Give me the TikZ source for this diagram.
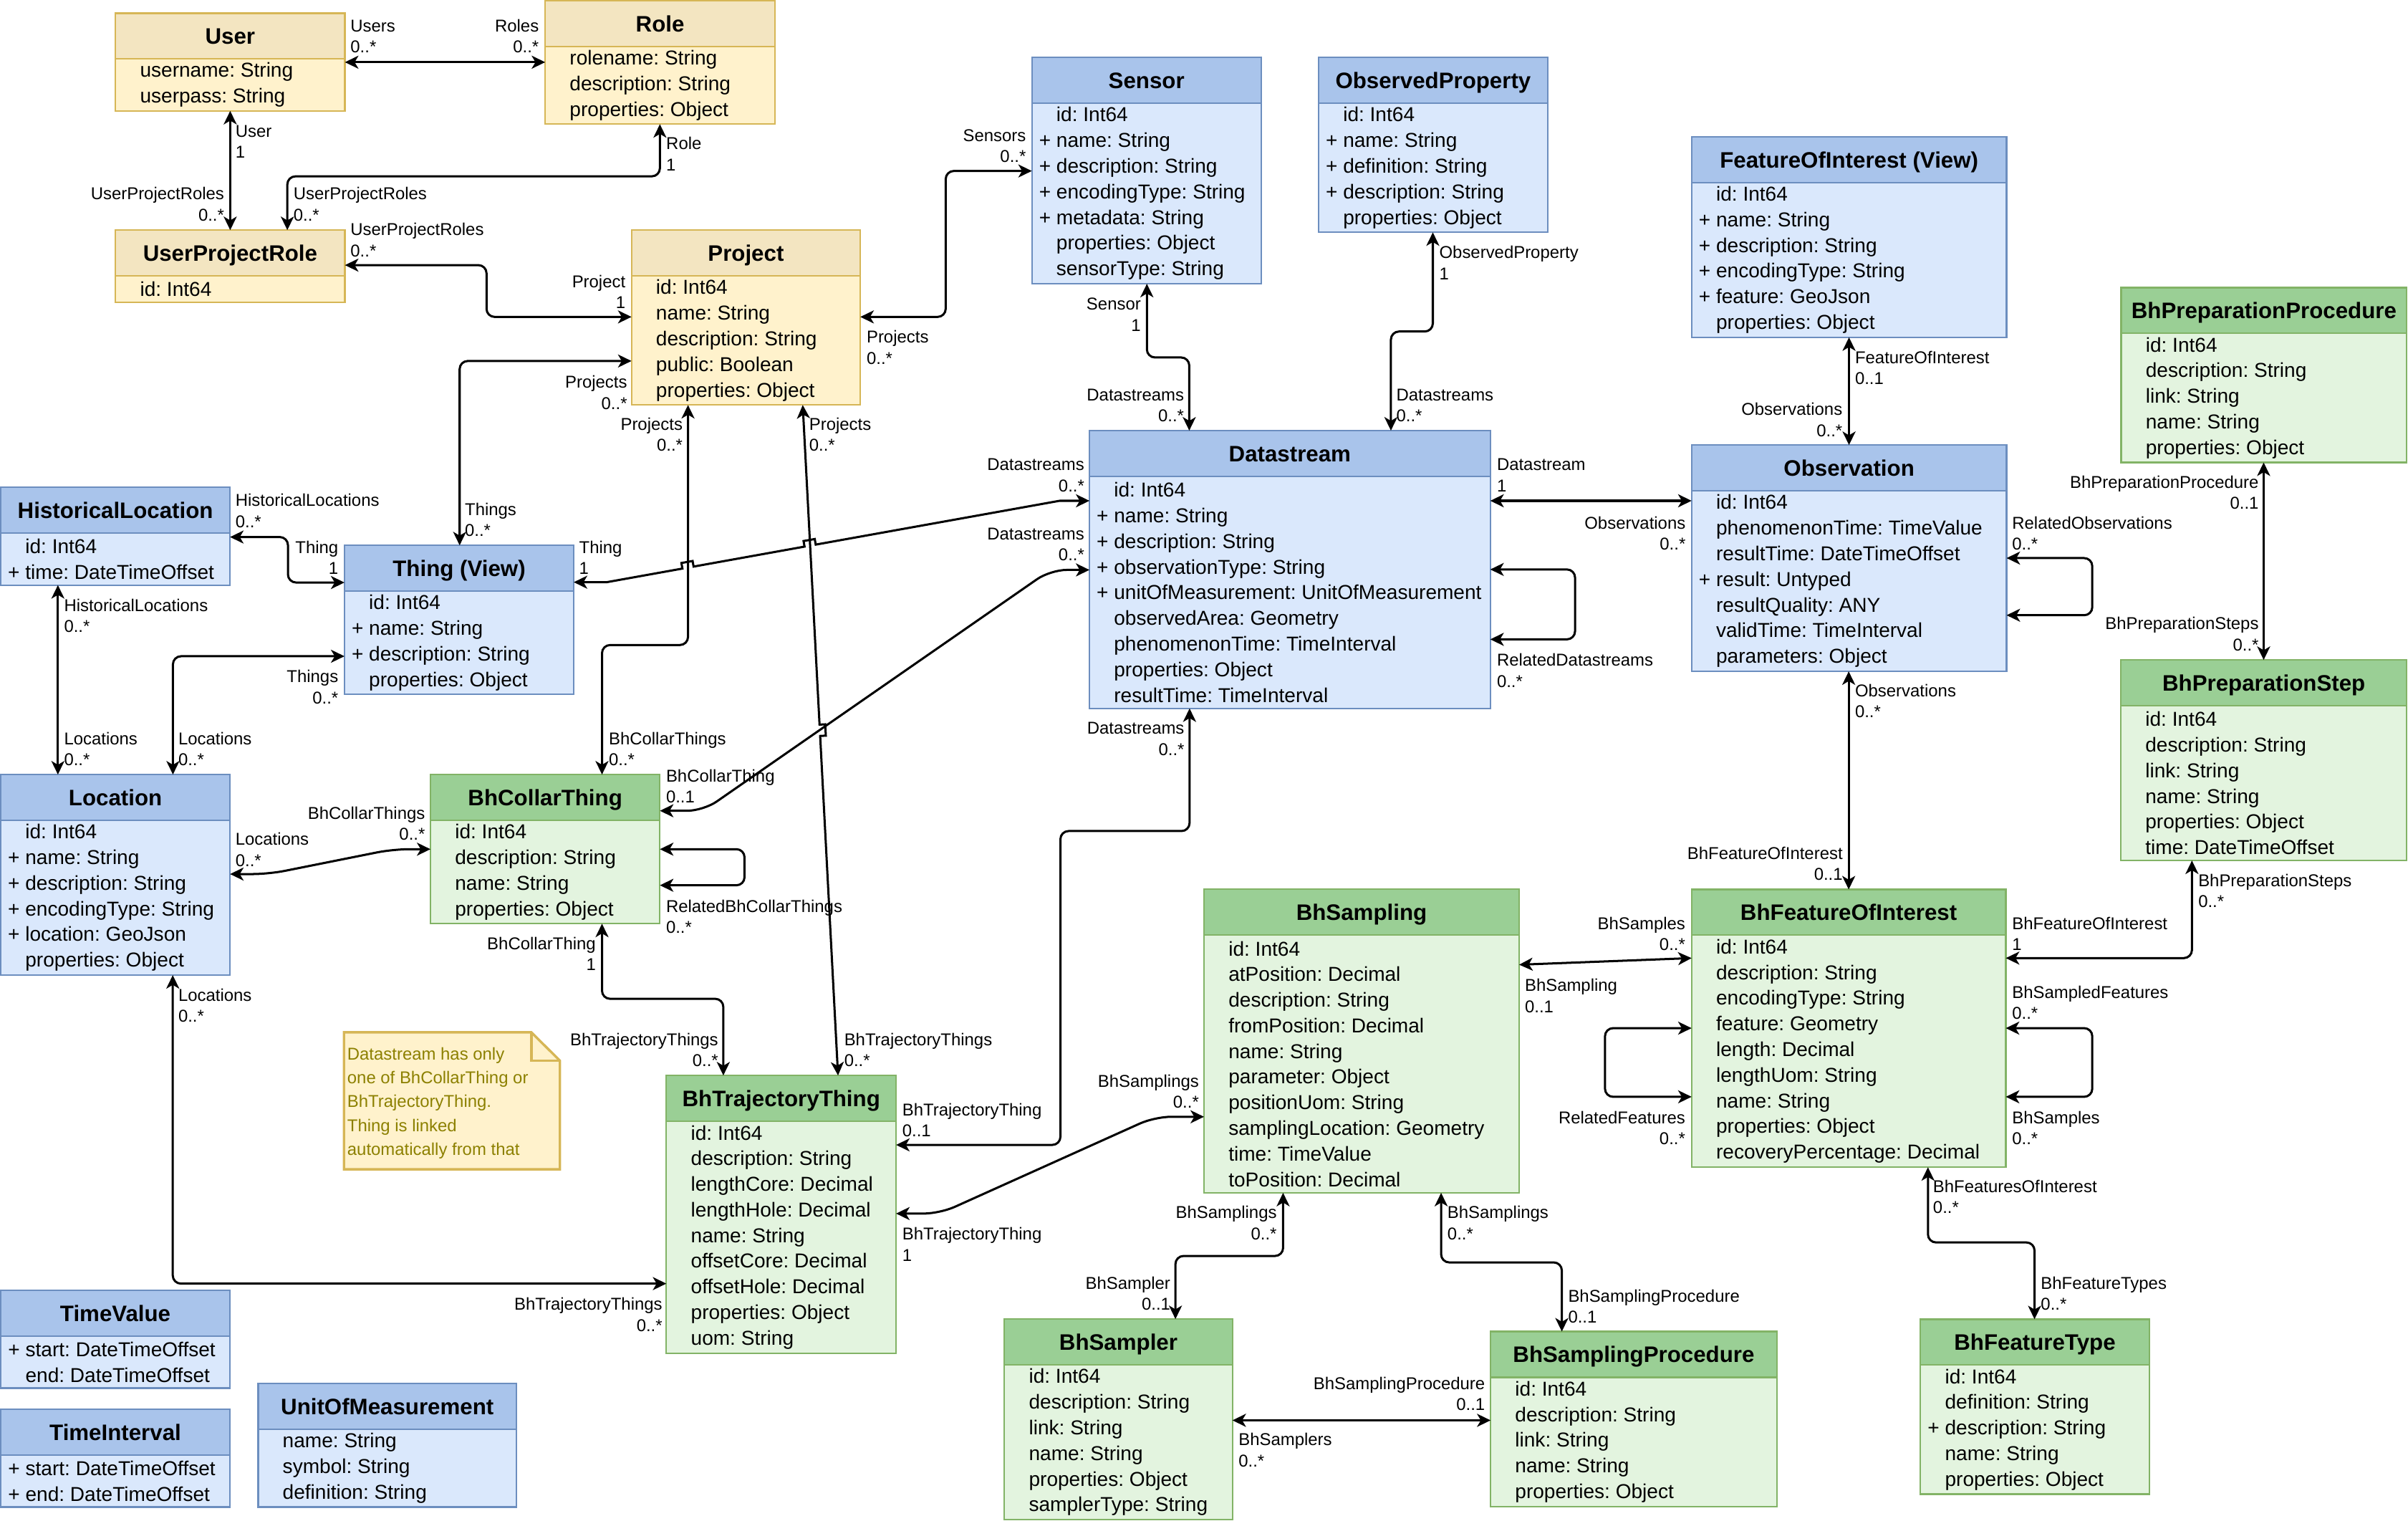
\documentclass[tikz,border=0pt]{standalone}
\usepackage{fontspec}
\setmainfont{Liberation Sans}
\usetikzlibrary{positioning,arrows.meta}

\definecolor{yelhead}{HTML}{F3E5C1}
\definecolor{yelbody}{HTML}{FFF2CC}
\definecolor{yelline}{HTML}{D6B656}
\definecolor{bluhead}{HTML}{A9C4EB}
\definecolor{blubody}{HTML}{DAE8FC}
\definecolor{bluline}{HTML}{6C8EBF}
\definecolor{grnhead}{HTML}{9ACF95}
\definecolor{grnbody}{HTML}{E3F4DF}
\definecolor{grnline}{HTML}{82B366}
\definecolor{notetext}{HTML}{8C8000}

\tikzset{
  yellow head/.style={fill=yelhead, draw=yelline},
  yellow body/.style={fill=yelbody, draw=yelline},
  blue head/.style={fill=bluhead, draw=bluline},
  blue body/.style={fill=blubody, draw=bluline},
  green head/.style={fill=grnhead, draw=grnline},
  green body/.style={fill=grnbody, draw=grnline},
  hdr/.style={outer sep=0pt, inner sep=0pt, line width=0.6pt, minimum height=0.596cm,
    text height=6pt, text depth=0pt, font=\fontsize{8.3}{10}\selectfont\bfseries},
  attrs/.style={outer sep=0pt, inner sep=0pt, line width=0.6pt, align=left,
    font=\fontsize{7.45}{9.5}\selectfont},
  assoc/.style={line width=0.8pt, >={Stealth[length=5pt,width=4.8pt,inset=1.4pt]}, <->,
    rounded corners=3pt},
  mult/.style={inner sep=0pt, yshift=-7.8pt, font=\fontsize{6.35}{7.8}\selectfont},
  ml/.style={mult, anchor=base west, align=left},
  mr/.style={mult, anchor=base east, align=right},
  notetxt/.style={inner sep=0pt, align=left, text=notetext, font=\fontsize{6.35}{8.86}\selectfont},
}

% attribut public
\newcommand{\pl}{\leavevmode\llap{+\ }}
% classe : nom, couleur, x, y, largeur, lignes, titre, attributs
\newcommand{\umlclass}[8]{%
  \pgfmathsetlengthmacro{\clsw}{#5*0.02cm}%
  \pgfmathsetlengthmacro{\clsh}{(#6*16.75+0.3)*0.02cm}%
  \node[hdr, #2 head, minimum width=\clsw, anchor=north west] (#1) at (#3,#4) {#7};%
  \node[attrs, #2 body, text width=\clsw, minimum height=\clsh, below=0pt of #1] (#1B)
    {\frenchspacing\spaceskip=0pt\xspaceskip=0pt\leftskip=0.32cm #8\par};%
}

\begin{document}
\begin{tikzpicture}[x=0.02cm, y=-0.02cm]
    \useasboundingbox (0,0) rectangle (1568,990);

    % Classes (jaune)
    \umlclass{user}{yellow}{75.2}{8.6}{149.4}{2}{User}{username: String\\userpass: String}
    \umlclass{role}{yellow}{355}{0.5}{149.6}{3}{Role}{rolename: String\\description: String\\properties: Object}
    \umlclass{upr}{yellow}{75.2}{149.8}{149.4}{1}{UserProjectRole}{id: Int64}
    \umlclass{project}{yellow}{411.2}{149.8}{149}{5}{Project}{id: Int64\\name: String\\description: String\\public: Boolean\\properties: Object}

    % Classes (bleu)
    \umlclass{sensor}{blue}{671.9}{37.4}{149.3}{7}{Sensor}{id: Int64\\\pl name: String\\\pl description: String\\\pl encodingType: String\\\pl metadata: String\\properties: Object\\sensorType: String}
    \umlclass{obsprop}{blue}{858.6}{37.4}{149.2}{5}{ObservedProperty}{id: Int64\\\pl name: String\\\pl definition: String\\\pl description: String\\properties: Object}
    \umlclass{foi}{blue}{1101.5}{89}{205.1}{6}{FeatureOfInterest (View)}{id: Int64\\\pl name: String\\\pl description: String\\\pl encodingType: String\\\pl feature: GeoJson\\properties: Object}
    \umlclass{ds}{blue}{709.4}{280.3}{261}{9}{Datastream}{id: Int64\\\pl name: String\\\pl description: String\\\pl observationType: String\\\pl unitOfMeasurement: UnitOfMeasurement\\observedArea: Geometry\\phenomenonTime: TimeInterval\\properties: Object\\resultTime: TimeInterval}
    \umlclass{obs}{blue}{1101.5}{289.7}{205.1}{7}{Observation}{id: Int64\\phenomenonTime: TimeValue\\resultTime: DateTimeOffset\\\pl result: Untyped\\resultQuality: ANY\\validTime: TimeInterval\\parameters: Object}
    \umlclass{hloc}{blue}{0.5}{317.3}{149.3}{2}{HistoricalLocation}{id: Int64\\\pl time: DateTimeOffset}
    \umlclass{thing}{blue}{224.3}{355}{149.3}{4}{Thing (View)}{id: Int64\\\pl name: String\\\pl description: String\\properties: Object}
    \umlclass{loc}{blue}{0.5}{504.2}{149.3}{6}{Location}{id: Int64\\\pl name: String\\\pl description: String\\\pl encodingType: String\\\pl location: GeoJson\\properties: Object}
    \umlclass{tvalue}{blue}{0.6}{840}{149}{2}{TimeValue}{\pl start: DateTimeOffset\\end: DateTimeOffset}
    \umlclass{tinterval}{blue}{0.6}{917.4}{149}{2}{TimeInterval}{\pl start: DateTimeOffset\\\pl end: DateTimeOffset}
    \umlclass{uom}{blue}{168.1}{900.7}{168.2}{3}{UnitOfMeasurement}{name: String\\symbol: String\\definition: String}

    % Classes (vert)
    \umlclass{collar}{green}{280.3}{504.2}{149.4}{4}{BhCollarThing}{id: Int64\\description: String\\name: String\\properties: Object}
    \umlclass{traj}{green}{433.9}{700.1}{149.6}{9}{BhTrajectoryThing}{id: Int64\\description: String\\lengthCore: Decimal\\lengthHole: Decimal\\name: String\\offsetCore: Decimal\\offsetHole: Decimal\\properties: Object\\uom: String}
    \umlclass{sampling}{green}{784}{578.9}{205.2}{10}{BhSampling}{id: Int64\\atPosition: Decimal\\description: String\\fromPosition: Decimal\\name: String\\parameter: Object\\positionUom: String\\samplingLocation: Geometry\\time: TimeValue\\toPosition: Decimal}
    \umlclass{bhfoi}{green}{1101.5}{579}{204.6}{9}{BhFeatureOfInterest}{id: Int64\\description: String\\encodingType: String\\feature: Geometry\\length: Decimal\\lengthUom: String\\name: String\\properties: Object\\recoveryPercentage: Decimal}
    \umlclass{prepproc}{green}{1381.2}{187.2}{186}{5}{BhPreparationProcedure}{id: Int64\\description: String\\link: String\\name: String\\properties: Object}
    \umlclass{prepstep}{green}{1381}{429.6}{186.2}{6}{BhPreparationStep}{id: Int64\\description: String\\link: String\\name: String\\properties: Object\\time: DateTimeOffset}
    \umlclass{sampler}{green}{654}{858.7}{148.5}{6}{BhSampler}{id: Int64\\description: String\\link: String\\name: String\\properties: Object\\samplerType: String}
    \umlclass{sproc}{green}{970.6}{866.8}{186.4}{5}{BhSamplingProcedure}{id: Int64\\description: String\\link: String\\name: String\\properties: Object}
    \umlclass{ftype}{green}{1250.5}{858.8}{149}{5}{BhFeatureType}{id: Int64\\definition: String\\\pl description: String\\name: String\\properties: Object}

    % Note
    \draw[fill=yelbody, draw=yelline, line width=0.9pt] (224,672) -- (346,672) -- (364.6,690.5) -- (364.6,761.2) -- (224,761.2) -- cycle;
    \draw[draw=yelline, line width=0.9pt] (346,672) -- (346,690.5) -- (364.6,690.5);
    \node[notetxt, anchor=base west] (note) at (225.8,752.1) {Datastream has only\\one of BhCollarThing or\\BhTrajectoryThing.\\Thing is linked\\automatically from that};

    % Associations
    \draw[assoc] (userB.east |- 0,40.5) -- (roleB.west |- 0,40.5);
    \draw[assoc] (userB.south) -- (upr.north);
    \draw[assoc] (roleB.south -| 429.7,0) -- (429.7,114.8) -- (187.1,114.8) -- (upr.north -| 187.1,0);
    \draw[assoc] (upr.east |- 0,172.6) -- (316.8,172.6) -- (316.8,206.3) -- (projectB.west |- 0,206.3);
    \draw[assoc] (projectB.east |- 0,206.3) -- (615.8,206.3) -- (615.8,111.3) -- (sensorB.west |- 0,111.3);
    \draw[assoc] (projectB.west |- 0,235) -- (299.3,235) -- (thing.north -| 299.3,0);
    \draw[assoc] (projectB.south -| 448,0) -- (448,419.9) -- (392,419.9) -- (collar.north -| 392,0);
    \draw[assoc, sharp corners] (projectB.south -| 522.7,0) -- (533.65,471.71) -- (537.34,471.51) -- (537.74,478.9) -- (534.05,479.09) -- (traj.north -| 545.7,0);
    \draw[assoc, sharp corners] (thing.east |- 0,379) -- (395,379) -- (444.36,370.13) -- (443.71,366.49) -- (450.99,365.19) -- (451.64,368.83)
        -- (523.89,355.83) -- (523.24,352.19) -- (530.52,350.89) -- (531.17,354.53) -- (690,326) -- (dsB.west |- 0,326);
    \draw[assoc] (hlocB.east |- 0,349.6) -- (187.5,349.6) -- (187.5,379.2) -- (thing.west |- 0,379.2);
    \draw[assoc] (hlocB.south -| 37.7,0) -- (loc.north -| 37.7,0);
    \draw[assoc] (thingB.west |- 0,427.2) -- (112.6,427.2) -- (loc.north -| 112.6,0);
    \draw[assoc, rounded corners=6pt] (locB.east |- 0,569) -- (175,569) -- (256,552.8) -- (collarB.west |- 0,552.8);
    \draw[assoc] (locB.south -| 112.5,0) -- (112.5,835.6) -- (trajB.west |- 0,835.6);
    \draw[assoc, rounded corners=6pt] (collar.east |- 0,527.8) -- (458,527.8) -- (684,371) -- (dsB.west |- 0,371);
    \draw[assoc] (collarB.east |- 0,552.8) -- (484.8,552.8) -- (484.8,576.3) -- (collarB.east |- 0,576.3);
    \draw[assoc] (collarB.south -| 392,0) -- (392,650.2) -- (471,650.2) -- (traj.north -| 471,0);
    \draw[assoc] (dsB.south -| 774.6,0) -- (774.6,541) -- (690.5,541) -- (690.5,745.3) -- (trajB.east |- 0,745.3);
    \draw[assoc] (sensorB.south -| 746.8,0) -- (746.8,232.7) -- (774.4,232.7) -- (ds.north -| 774.4,0);
    \draw[assoc] (obspropB.south -| 933,0) -- (933,215.8) -- (905.7,215.8) -- (ds.north -| 905.7,0);
    \draw[assoc] (dsB.east |- 0,326) -- (obsB.west |- 0,326);
    \draw[assoc] (dsB.east |- 0,370.7) -- (1025.6,370.7) -- (1025.6,416.2) -- (dsB.east |- 0,416.2);
    \draw[assoc] (foiB.south -| 1204,0) -- (obs.north -| 1204,0);
    \draw[assoc] (obsB.east |- 0,363.3) -- (1362.4,363.3) -- (1362.4,400.5) -- (obsB.east |- 0,400.5);
    \draw[assoc] (obsB.south -| 1203.8,0) -- (bhfoi.north -| 1203.8,0);
    \draw[assoc] (prepprocB.south -| 1474,0) -- (prepstep.north -| 1474,0);
    \draw[assoc] (prepstepB.south -| 1427.3,0) -- (1427.3,623.7) -- (bhfoiB.east |- 0,623.7);
    \draw[assoc] (bhfoiB.east |- 0,669.3) -- (1362.4,669.3) -- (1362.4,714) -- (bhfoiB.east |- 0,714);
    \draw[assoc] (bhfoiB.west |- 0,669.3) -- (1045.1,669.3) -- (1045.1,714) -- (bhfoiB.west |- 0,714);
    \draw[assoc] (samplingB.east |- 0,628) -- (bhfoiB.west |- 0,623.7);
    \draw[assoc, rounded corners=6pt] (samplingB.west |- 0,727) -- (752,727) -- (612,790) -- (trajB.east |- 0,790);
    \draw[assoc] (samplingB.south -| 835.5,0) -- (835.5,817.6) -- (765.4,817.6) -- (sampler.north -| 765.4,0);
    \draw[assoc] (samplingB.south -| 938.4,0) -- (938.4,821.8) -- (1017,821.8) -- (sproc.north -| 1017,0);
    \draw[assoc] (samplerB.east |- 0,924.6) -- (sprocB.west |- 0,924.6);
    \draw[assoc] (bhfoiB.south -| 1255.4,0) -- (1255.4,808.8) -- (1324.8,808.8) -- (ftype.north -| 1324.8,0);

    % Multiplicites
    \node[ml] (ura) at (227.9,20.6) {Users\\0..*};
    \node[mr] (urb) at (351.2,20.6) {Roles\\0..*};
    \node[ml] (uua) at (153,89.1) {User\\1};
    \node[mr] (uub) at (146.3,130.1) {UserProjectRoles\\0..*};
    \node[ml] (rua) at (433.5,97.3) {Role\\1};
    \node[ml] (rub) at (190.8,130.1) {UserProjectRoles\\0..*};
    \node[ml] (upa) at (227.9,153.4) {UserProjectRoles\\0..*};
    \node[mr] (upb) at (407.6,187.1) {Project\\1};
    \node[ml] (psa) at (564,223.3) {Projects\\0..*};
    \node[mr] (psb) at (668.4,91.9) {Sensors\\0..*};
    \node[mr] (pta) at (408.7,252.7) {Projects\\0..*};
    \node[ml] (ptb) at (302.4,335.4) {Things\\0..*};
    \node[mr] (pca) at (444.8,280) {Projects\\0..*};
    \node[ml] (pcb) at (396.1,484.8) {BhCollarThings\\0..*};
    \node[ml] (pja) at (526.6,280) {Projects\\0..*};
    \node[ml] (pjb) at (549.4,680.7) {BhTrajectoryThings\\0..*};
    \node[ml] (tda) at (376.8,360.2) {Thing\\1};
    \node[mr] (tdb) at (706.4,306.3) {Datastreams\\0..*};
    \node[ml] (hta) at (153,329.6) {HistoricalLocations\\0..*};
    \node[mr] (htb) at (220.6,360.2) {Thing\\1};
    \node[ml] (hla) at (41.4,398) {HistoricalLocations\\0..*};
    \node[ml] (hlb) at (41.4,484.8) {Locations\\0..*};
    \node[mr] (tla) at (220.6,444.3) {Things\\0..*};
    \node[ml] (tlb) at (115.8,484.8) {Locations\\0..*};
    \node[ml] (lca) at (153,550.2) {Locations\\0..*};
    \node[mr] (lcb) at (277.1,533.3) {BhCollarThings\\0..*};
    \node[ml] (lja) at (115.8,651.6) {Locations\\0..*};
    \node[mr] (ljb) at (431.6,853) {BhTrajectoryThings\\0..*};
    \node[ml] (cda) at (433.4,509) {BhCollarThing\\0..1};
    \node[mr] (cdb) at (706.4,351.3) {Datastreams\\0..*};
    \node[ml] (cca) at (433.4,593.9) {RelatedBhCollarThings\\0..*};
    \node[mr] (cja) at (388.3,618.1) {BhCollarThing\\1};
    \node[mr] (cjb) at (468,680.7) {BhTrajectoryThings\\0..*};
    \node[mr] (dja) at (771.5,478) {Datastreams\\0..*};
    \node[ml] (djb) at (587.2,726.3) {BhTrajectoryThing\\0..1};
    \node[mr] (sda) at (743.2,201.9) {Sensor\\1};
    \node[mr] (sdb) at (771.3,260.8) {Datastreams\\0..*};
    \node[ml] (oda) at (936.9,168.3) {ObservedProperty\\1};
    \node[ml] (odb) at (908.9,260.8) {Datastreams\\0..*};
    \node[ml] (doa) at (974.4,306.3) {Datastream\\1};
    \node[mr] (dob) at (1097.9,344.2) {Observations\\0..*};
    \node[ml] (dda) at (974.4,433.7) {RelatedDatastreams\\0..*};
    \node[ml] (foa) at (1207.6,236.5) {FeatureOfInterest\\0..1};
    \node[mr] (fob) at (1200,270.5) {Observations\\0..*};
    \node[ml] (ooa) at (1309.9,344.2) {RelatedObservations\\0..*};
    \node[ml] (oba) at (1207.6,453.5) {Observations\\0..*};
    \node[mr] (obb) at (1200.2,559.3) {BhFeatureOfInterest\\0..1};
    \node[mr] (ppa) at (1471.1,317.8) {BhPreparationProcedure\\0..1};
    \node[mr] (ppb) at (1471.1,409.9) {BhPreparationSteps\\0..*};
    \node[ml] (sba) at (1431.1,577.1) {BhPreparationSteps\\0..*};
    \node[ml] (sbb) at (1309.9,604.9) {BhFeatureOfInterest\\1};
    \node[ml] (bra) at (1309.9,649.7) {BhSampledFeatures\\0..*};
    \node[ml] (brb) at (1309.9,731.5) {BhSamples\\0..*};
    \node[mr] (bla) at (1097.7,731.5) {RelatedFeatures\\0..*};
    \node[mr] (sfa) at (1097.7,604.9) {BhSamples\\0..*};
    \node[ml] (sfb) at (992.6,645.4) {BhSampling\\0..1};
    \node[mr] (sja) at (781,707.6) {BhSamplings\\0..*};
    \node[ml] (sjb) at (587.2,807.2) {BhTrajectoryThing\\1};
    \node[mr] (ssa) at (831.7,793.3) {BhSamplings\\0..*};
    \node[mr] (ssb) at (762.4,839.3) {BhSampler\\0..1};
    \node[ml] (spa) at (942.2,793.3) {BhSamplings\\0..*};
    \node[ml] (spb) at (1020.8,847.5) {BhSamplingProcedure\\0..1};
    \node[mr] (rpa) at (967.3,904.6) {BhSamplingProcedure\\0..1};
    \node[ml] (rpb) at (806.2,941.1) {BhSamplers\\0..*};
    \node[ml] (fta) at (1258.4,776.3) {BhFeaturesOfInterest\\0..*};
    \node[ml] (ftb) at (1328.6,839.1) {BhFeatureTypes\\0..*};
\end{tikzpicture}
\end{document}
